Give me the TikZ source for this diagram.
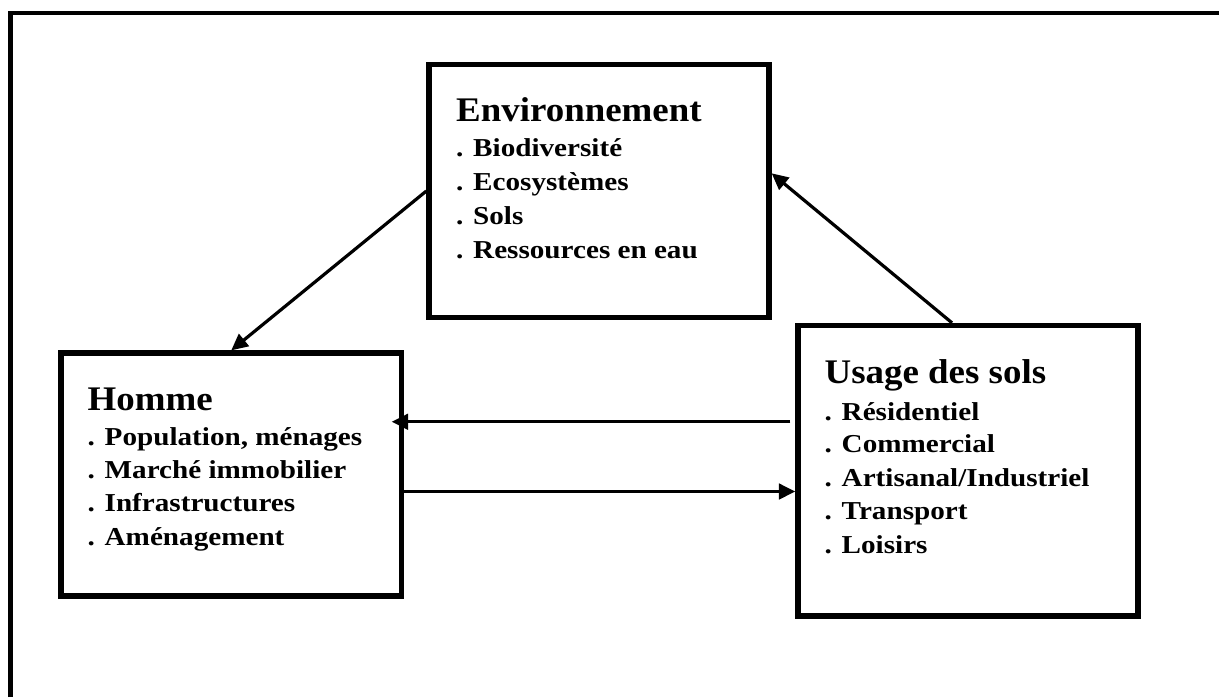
\documentclass[tikz,border=0pt]{standalone}
\usepackage{fontspec}
\setmainfont{Liberation Serif}
\newfontfamily\hdfnt{Liberation Serif}[FakeStretch=1.07]
\newfontfamily\itmfnt{Liberation Serif}[FakeStretch=1.13]
\usetikzlibrary{arrows.meta}
\begin{document}
\begin{tikzpicture}[x=1pt,y=-1pt,
  box/.style={draw, rectangle, line width=5.3pt, inner sep=0pt},
  headtext/.style={anchor=base west, inner sep=0pt, font=\hdfnt\bfseries\fontsize{34.5}{40}\selectfont},
  itemtext/.style={anchor=base west, inner sep=0pt, font=\itmfnt\bfseries\fontsize{25.8}{30}\selectfont},
  conn/.style={line width=3.2pt, -{Triangle[length=16.5pt,width=15.5pt]}},
  frame/.style={line width=4.5pt, line join=miter}]
\useasboundingbox (0,0) rectangle (1219,697);
\fill[white] (0,0) rectangle (1219,697);
% outer frame (top and left edges)
\draw[frame] (10.5,697) -- (10.5,13) -- (1219,13);
% boxes
\node[box, minimum width=340pt, minimum height=253pt] (env) at (599,191) {};
\node[box, minimum width=340.5pt, minimum height=243pt] (homme) at (231.25,474.5) {};
\node[box, minimum width=340pt, minimum height=290.5pt] (usage) at (968,470.75) {};
% Environnement texts
\node[headtext] (envT) at (456,121.7) {Environnement};
\node[itemtext] (envA) at (456,156) {. Biodiversité};
\node[itemtext] (envB) at (456,190) {. Ecosystèmes};
\node[itemtext] (envC) at (456,224) {. Sols};
\node[itemtext] (envD) at (456,258) {. Ressources en eau};
% Homme texts
\node[headtext] (homT) at (87.5,410) {Homme};
\node[itemtext] (homA) at (87.5,445) {. Population, ménages};
\node[itemtext] (homB) at (87.5,478.3) {. Marché immobilier};
\node[itemtext] (homC) at (87.5,511.7) {. Infrastructures};
\node[itemtext] (homD) at (87.5,545) {. Aménagement};
% Usage texts
\node[headtext] (usaT) at (824.5,383.3) {Usage des sols};
\node[itemtext] (usaA) at (824.5,420) {. Résidentiel};
\node[itemtext] (usaB) at (824.5,452.7) {. Commercial};
\node[itemtext] (usaC) at (824.5,486) {. Artisanal/Industriel};
\node[itemtext] (usaD) at (824.5,519.3) {. Transport};
\node[itemtext] (usaE) at (824.5,553.3) {. Loisirs};
% connectors
\draw[conn] (env.west) -- (homme.north);
\draw[conn] ([xshift=-16pt]usage.north) -- ([yshift=17.7pt]env.east);
\coordinate (a3s) at ([xshift=-5pt,yshift=49pt]usage.west);
\coordinate (a3e) at (a3s -| homme.east);
\draw[conn] (a3s) -- ([xshift=-12.5pt]a3e);
\coordinate (a4s) at ([yshift=-17pt]homme.east);
\coordinate (a4e) at (a4s -| usage.west);
\draw[conn] (a4s) -- (a4e);
\end{tikzpicture}
\end{document}
